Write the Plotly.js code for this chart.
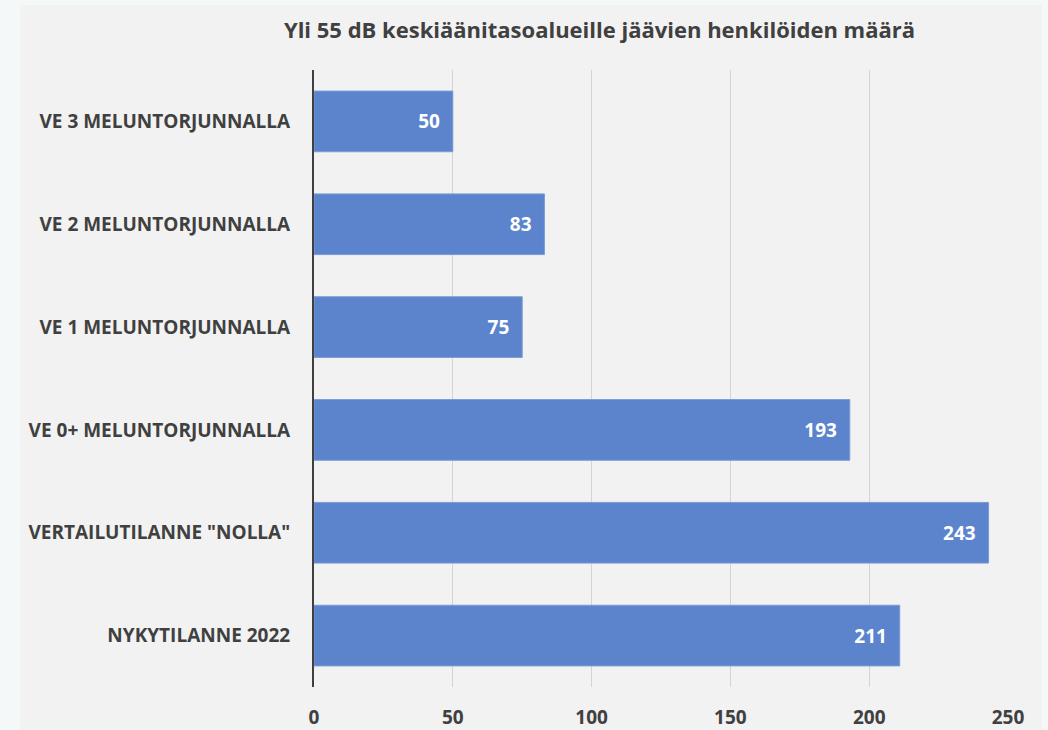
<!DOCTYPE html>
<html>
<head>
<meta charset="utf-8">
<script src="https://cdn.plot.ly/plotly-3.0.1.min.js"></script>
<style>
html,body{margin:0;padding:0;background:#f5f8f8;width:1048px;height:730px;overflow:hidden;}
#chart{position:absolute;left:20px;top:5px;width:1022px;height:725px;}
</style>
</head>
<body>
<div id="chart"></div>
<script>
const categories = ['NYKYTILANNE 2022', 'VERTAILUTILANNE "NOLLA"', 'VE 0+ MELUNTORJUNNALLA', 'VE 1 MELUNTORJUNNALLA', 'VE 2 MELUNTORJUNNALLA', 'VE 3 MELUNTORJUNNALLA'];
const values = [211, 243, 193, 75, 83, 50];
const xTicks = [0, 50, 100, 150, 200, 250];
const titleText = 'Yli 55 dB keskiäänitasoalueille jäävien henkilöiden määrä';

const fontFam = '"Open Sans", "Noto Sans", sans-serif';
const trace = {
  type: 'bar',
  orientation: 'h',
  y: categories,
  x: values,
  text: values.map(v => String(v) + '\u00A0\u00A0'),
  textposition: 'inside',
  insidetextanchor: 'end',
  textangle: 0,
  textfont: {family: fontFam, size: 19, color: '#ffffff', weight: 'bold'},
  marker: {color: '#5b84cc', line: {color: '#7a9bd6', width: 1}},
  hoverinfo: 'none'
};
const layout = {
  width: 1022, height: 725,
  paper_bgcolor: '#f2f2f2', plot_bgcolor: '#f2f2f2',
  margin: {l: 294, r: 34, t: 65, b: 43},
  bargap: 0.41,
  showlegend: false,
  title: {text: titleText, x: 0.567, xanchor: 'center', y: 0.965, yanchor: 'middle',
          font: {family: fontFam, size: 22, color: '#404040', weight: 'bold'}},
  xaxis: {range: [0, 250], tickvals: xTicks, showgrid: true, gridcolor: '#d4d4d4', gridwidth: 1,
          zeroline: false, showline: false, ticks: '', ticklabelstandoff: 17,
          tickfont: {family: fontFam, size: 19, color: '#404040', weight: 'bold'}, fixedrange: true},
  yaxis: {showline: true, linecolor: '#404040', linewidth: 2, ticks: '', ticklabelstandoff: 18,
          tickfont: {family: fontFam, size: 19, color: '#404040', weight: 'bold'}, fixedrange: true}
};
Plotly.newPlot('chart', [trace], layout, {displayModeBar: false, staticPlot: true});
</script>
</body>
</html>
